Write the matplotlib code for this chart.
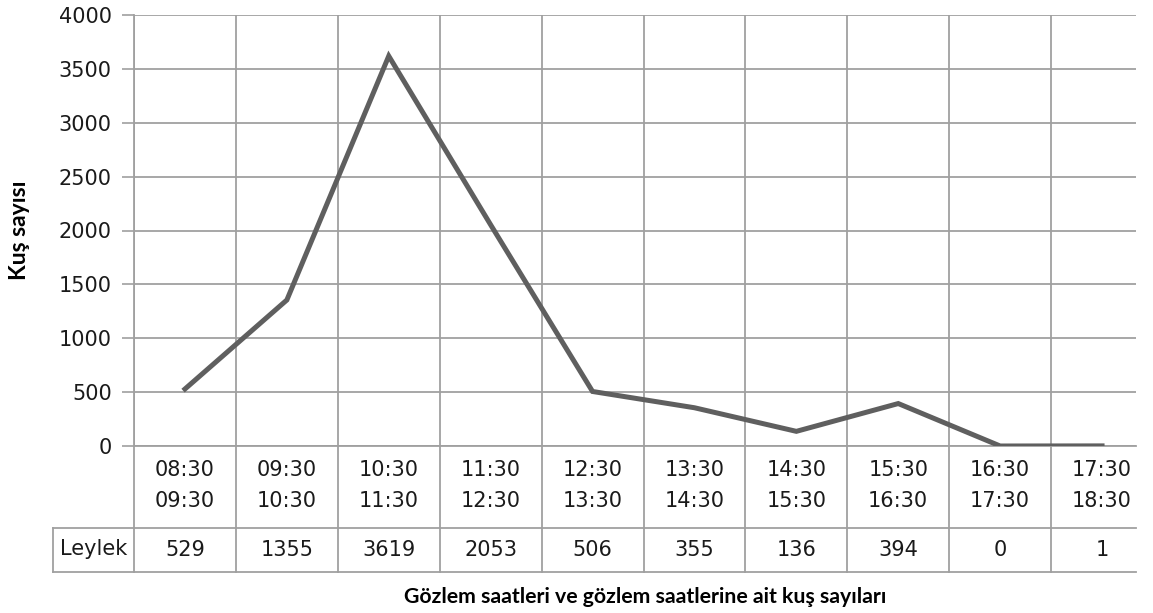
import numpy as np
import matplotlib.pyplot as plt
import matplotlib.transforms as mtransforms

# Observation periods and stork counts
period_start = ['08:30', '09:30', '10:30', '11:30', '12:30',
                '13:30', '14:30', '15:30', '16:30', '17:30']
period_end = ['09:30', '10:30', '11:30', '12:30', '13:30',
              '14:30', '15:30', '16:30', '17:30', '18:30']
series_name = 'Leylek'
leylek = [529, 1355, 3619, 2053, 506, 355, 136, 394, 0, 1]
y_ticks = [0, 500, 1000, 1500, 2000, 2500, 3000, 3500, 4000]

W, H = 1153, 613
GRID = '#a0a0a0'
LINE = '#5f5f5f'
TXT = '#1a1a1a'

fig = plt.figure(figsize=(W / 100, H / 100), dpi=100)

# plot area in pixels
left_px, right_px, top_px, zero_px = 134, 1136, 15, 446
col_w = 101.9
ax = fig.add_axes([left_px / W, 1 - zero_px / H,
                   (right_px - left_px) / W, (zero_px - top_px) / H])

x = np.arange(len(leylek))
ax.plot(x, leylek, color=LINE, linewidth=3.6, solid_joinstyle='miter', zorder=3)

ax.set_ylim(0, 4000)
ax.set_xlim(-0.5, -0.5 + (right_px - left_px) / col_w)
ax.set_yticks(y_ticks)
ax.set_yticklabels([str(v) for v in y_ticks], fontsize=15, color=TXT)
ax.tick_params(axis='y', length=9, width=1.2, color=GRID, pad=7)
ax.set_xticks(np.arange(-0.5, 9.0, 1.0))
ax.tick_params(axis='x', length=0, labelbottom=False)
ax.grid(True, color=GRID, linewidth=1.3)
for s in ['top', 'right', 'bottom']:
    ax.spines[s].set_visible(False)
ax.spines['left'].set_color(GRID)
ax.spines['left'].set_linewidth(1.3)

# data table underneath the plot (x in data units, y in pixels from top)
ax_h = zero_px - top_px
def ypx(p):
    return (zero_px - p) / ax_h

trans = mtransforms.blended_transform_factory(ax.transData, ax.transAxes)
row1, row2 = 528, 572
label_left = -0.5 + (53 - left_px) / col_w
x_end = ax.get_xlim()[1]

# vertical separators extended through the table
for k in range(len(leylek)):
    xv = k - 0.5
    ax.plot([xv, xv], [0, ypx(row2)], transform=trans, color=GRID,
            linewidth=1.3, clip_on=False)
ax.plot([-0.5, x_end], [0, 0], transform=trans, color=GRID, linewidth=1.3, clip_on=False)
for r in (row1, row2):
    ax.plot([label_left, x_end], [ypx(r), ypx(r)], transform=trans,
            color=GRID, linewidth=1.3, clip_on=False)
ax.plot([label_left, label_left], [ypx(row1), ypx(row2)], transform=trans,
        color=GRID, linewidth=1.3, clip_on=False)

for i in x:
    ax.text(i, ypx(470), period_start[i], transform=trans, ha='center', va='center',
            fontsize=15, color=TXT, clip_on=False)
    ax.text(i, ypx(501), period_end[i], transform=trans, ha='center', va='center',
            fontsize=15, color=TXT, clip_on=False)
    ax.text(i, ypx(550), str(leylek[i]), transform=trans, ha='center', va='center',
            fontsize=15, color=TXT, clip_on=False)
ax.text((label_left - 0.5) / 2, ypx(549), series_name, transform=trans,
        ha='center', va='center', fontsize=15, color=TXT, clip_on=False)

# axis titles
fig.text(20 / W, 1 - 230 / H, 'Kuş sayısı', rotation=90, ha='center', va='center',
         fontsize=16.5, fontweight='bold', family='Lato', color='black')
fig.text(645 / W, 1 - 597 / H, 'Gözlem saatleri ve gözlem saatlerine ait kuş sayıları',
         ha='center', va='center', fontsize=15.3, fontweight='bold', family='Lato',
         color='black')

fig.savefig('out.png', dpi=100)
